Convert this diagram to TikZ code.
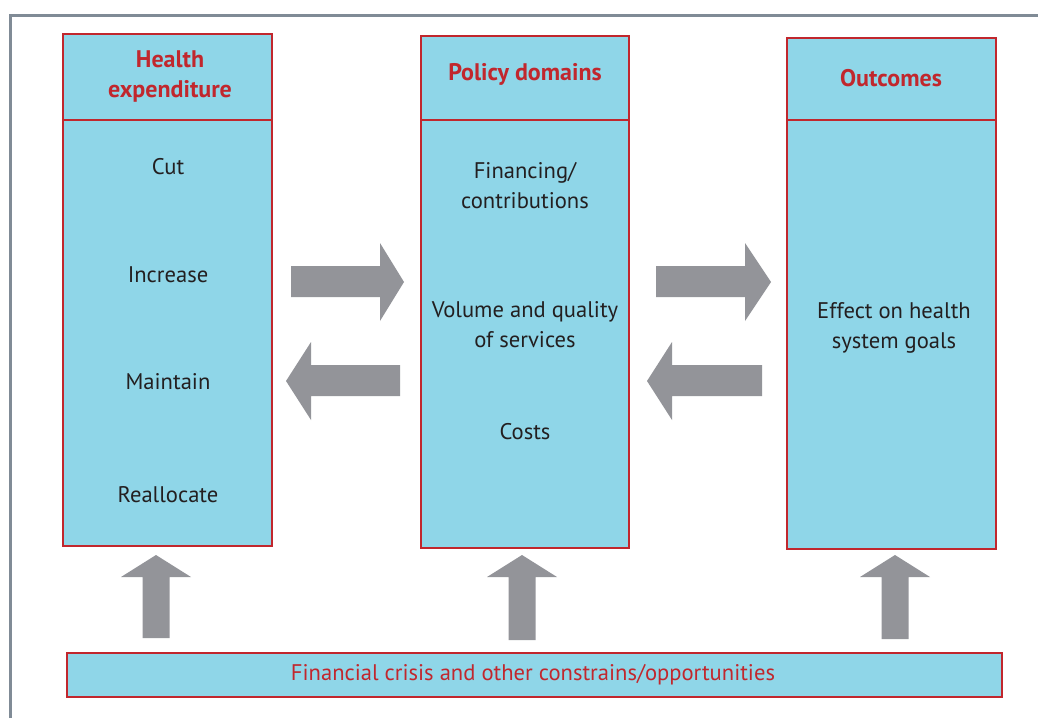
\documentclass[tikz,border=0pt]{standalone}
\usepackage{fontspec}
\setmainfont{PT Sans}
\definecolor{boxfill}{HTML}{8FD6E8}
\definecolor{boxred}{HTML}{C1272D}
\definecolor{txt}{HTML}{231F20}
\definecolor{arrgray}{HTML}{939499}
\definecolor{framegray}{HTML}{808B96}
\begin{document}
\begin{tikzpicture}[x=1pt,y=-1pt,
  col/.style={draw=boxred,line width=2.5pt,fill=boxfill,inner sep=0pt},
  head/.style={text=boxred,font=\fontsize{24}{30}\selectfont\bfseries,align=center},
  item/.style={text=txt,font=\fontsize{22.6}{30}\selectfont,align=center},
  blockarrow/.style={fill=arrgray}]
\useasboundingbox (0,0) rectangle (1038,718);
% frame
\draw[framegray,line width=3pt] (10,718) -- (10,15) -- (1038,15);
% columns
\path[col] (63,34) rectangle (272,546);
\draw[boxred,line width=2.5pt] (63,120) -- (272,120);
\path[col] (421,36) rectangle (629,548);
\draw[boxred,line width=2.5pt] (421,120) -- (629,120);
\path[col] (787,38) rectangle (996,549);
\draw[boxred,line width=2.5pt] (787,120) -- (996,120);
\path[col] (67,653) rectangle (1002,697);
% headers
\node[head] (h1) at (170,76) {Health\\expenditure};
\node[head] (h2) at (525,74) {Policy domains};
\node[head] (h3) at (891,78) {Outcomes};
% items
\node[item] (cut) at (168,167) {Cut};
\node[item] (inc) at (168,275) {Increase};
\node[item] (mai) at (168,382) {Maintain};
\node[item] (rea) at (168,495) {Reallocate};
\node[item] (fin) at (525,186) {Financing/\\contributions};
\node[item] (vol) at (525,325) {Volume and quality\\of services};
\node[item] (cos) at (525,432) {Costs};
\node[item] (eff) at (894,328) {Effect on health\\system goals};
\node[item,text=boxred] (fc) at (533,675) {Financial crisis and other constrains/opportunities};
% horizontal arrows
\fill[blockarrow] (291,266) -- (380,266) -- (380,243) -- (404,282) -- (380,321) -- (380,297) -- (291,297) -- cycle;
\fill[blockarrow] (400,365) -- (311,365) -- (311,342) -- (286,381) -- (311,420) -- (311,396) -- (400,396) -- cycle;
\fill[blockarrow] (656,266) -- (745,266) -- (745,243) -- (771,282) -- (745,321) -- (745,297) -- (656,297) -- cycle;
\fill[blockarrow] (762,365) -- (672,365) -- (672,342) -- (647,381) -- (672,420) -- (672,396) -- (762,396) -- cycle;
% up arrows
\foreach \c/\b in {156/638,522/640,895/639}{
  \fill[blockarrow] (\c-13.5,\b) -- (\c-13.5,577) -- (\c-35,577) -- (\c,555) -- (\c+35,577) -- (\c+13.5,577) -- (\c+13.5,\b) -- cycle;
}
\end{tikzpicture}
\end{document}
